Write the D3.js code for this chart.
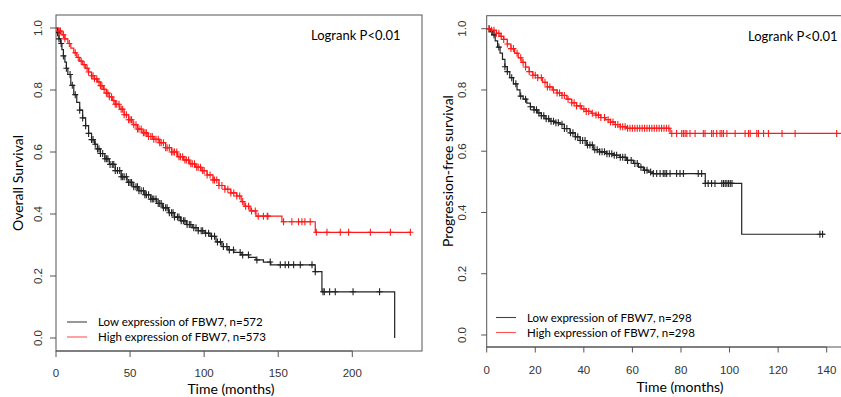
<!DOCTYPE html>
<html>
<head>
<meta charset="utf-8">
<script src="https://cdn.jsdelivr.net/npm/d3@7"></script>
<style>
  body { margin: 0; background: #fff; }
  svg { display: block; }
</style>
</head>
<body>
<svg id="chart" width="841" height="397"></svg>
<script>
// Kaplan-Meier curves: [time in months, survival]
const osLow = [[0,1.0],[1,0.985],[2,0.965],[3,0.95],[4,0.93],[5,0.91],[6,0.89],[7,0.87],[8,0.85],[10,0.815],
  [12,0.785],[14,0.76],[16,0.735],[18,0.71],[20,0.685],[22,0.66],[24,0.64],[26,0.625],[28,0.61],[30,0.595],
  [33,0.578],[36,0.56],[40,0.54],[44,0.52],[48,0.502],[52,0.488],[56,0.475],[60,0.462],[64,0.448],[68,0.434],
  [72,0.42],[76,0.404],[80,0.39],[84,0.378],[88,0.366],[92,0.356],[96,0.346],[100,0.338],[104,0.328],[108,0.31],
  [112,0.295],[116,0.284],[120,0.276],[125,0.268],[130,0.26],[135,0.252],[140,0.245],[145,0.236],[175,0.214],
  [179.5,0.149],[228.6,0.0]];
const osHigh = [[0,1.0],[2,0.99],[4,0.978],[6,0.965],[8,0.95],[10,0.935],[12,0.92],[14,0.905],[16,0.893],[18,0.882],
  [20,0.87],[22,0.858],[24,0.846],[26,0.836],[28,0.826],[30,0.814],[32,0.802],[34,0.79],[36,0.778],[38,0.766],
  [40,0.754],[43,0.738],[46,0.72],[49,0.704],[52,0.688],[55,0.674],[58,0.662],[62,0.65],[66,0.641],[70,0.63],
  [74,0.614],[78,0.6],[82,0.585],[86,0.574],[90,0.562],[94,0.551],[98,0.54],[102,0.526],[106,0.51],[110,0.492],
  [114,0.48],[118,0.468],[122,0.458],[125,0.44],[127,0.425],[131,0.41],[135,0.393],[152.5,0.375],[175,0.341],[239.5,0.341]];

const osLowCensor = [1, 2, 3.5, 5, 7, 9.5, 11, 13, 16, 18, 20, 22, 24, 25, 26.5, 28, 29, 30, 31.5, 33, 34, 35, 36.5,
  38, 39, 40, 41.5, 43, 44, 45, 46, 47.5, 49, 50, 51, 52.5, 54, 55, 56, 57.5, 59, 60, 61, 62.5, 64, 65, 66, 67.5,
  69, 70, 71, 72.5, 74, 75, 76.5, 78, 79, 80, 82, 83, 84.5, 86, 87, 88.5, 90, 91, 93, 94.5, 96, 98, 99, 101, 103,
  105, 107, 109, 111, 113, 115.3, 117, 119.8, 124.3, 126, 129.9, 135.6, 144.6, 151.4, 154.7, 157, 160.4, 164.9,
  172.8, 175, 180.2, 181.1, 184.7, 188.5, 200.5, 218.4];
const osHighCensor = [2, 3, 5, 6, 9, 13, 15, 17, 19, 21, 22, 24, 25, 26, 27.5, 29, 30, 31, 32.5, 34, 35, 36, 37.5,
  39, 40, 41, 42.5, 44, 45, 46, 47.5, 49, 50, 51, 52.5, 54, 55, 56, 57.5, 59, 60, 61, 62.5, 64, 65, 66, 67.5, 69,
  70, 71, 72.5, 74, 75, 76.5, 78, 79, 80, 81.5, 83, 84, 85.5, 87, 88, 89.5, 91, 92, 93.5, 95, 96, 97.5, 99, 100,
  102, 104, 106, 107, 108.5, 110, 112, 114, 116, 118, 120, 122, 124, 126, 128, 130, 132, 134.5, 136.5, 140, 142.6,
  143, 153.6, 159.2, 163.7, 166, 168, 171.6, 175.7, 182.9, 191.9, 197.5, 212.2, 225.7, 239.2];

const pfsLow = [[0,1.0],[1.5,0.99],[2.5,0.98],[3.5,0.96],[4.5,0.94],[5.5,0.92],[6.5,0.9],[7.5,0.876],[8.5,0.86],
  [9.5,0.84],[11,0.82],[12.5,0.8],[13.7,0.78],[15,0.77],[16.5,0.757],[18,0.745],[19.5,0.735],[21,0.725],
  [22.5,0.716],[24,0.706],[26,0.698],[28,0.693],[30.2,0.688],[32,0.674],[34.3,0.66],[36.5,0.647],[38.5,0.635],
  [41,0.62],[43.9,0.605],[46.5,0.598],[49.4,0.592],[52,0.587],[54.9,0.58],[57.5,0.57],[60.4,0.56],[62.5,0.548],
  [64.5,0.538],[66.5,0.532],[68.6,0.527],[90,0.495],[105,0.329],[139.3,0.329]];
const pfsHigh = [[0,1.0],[2,0.995],[4,0.985],[5.5,0.975],[7,0.965],[8.5,0.95],[10,0.935],[11.5,0.92],[13,0.905],
  [14.5,0.89],[16,0.875],[17.5,0.86],[19,0.848],[21,0.84],[23,0.825],[25,0.81],[27,0.8],[29,0.79],[31,0.782],
  [33,0.77],[35,0.758],[37,0.748],[39,0.738],[41,0.73],[43,0.724],[45,0.718],[47,0.71],[49,0.703],[51,0.695],
  [53,0.687],[55,0.68],[57.6,0.675],[75.5,0.658],[148,0.658]];

const pfsLowCensor = [1, 2, 3, 5, 7.5, 8.5, 10.3, 12, 14, 16, 18, 19.5, 20.5, 21.5, 22.5, 23.5, 24.5, 25.5, 26.5,
  27.5, 28.5, 29.5, 31, 32, 33, 34.5, 35.5, 36.5, 37.5, 38.5, 39.5, 40.5, 41.5, 42.5, 43.5, 44.5, 45.5, 46.5, 47.5,
  48.5, 49.5, 50.5, 51.5, 52.5, 53.5, 55, 56, 57, 58, 59.5, 61, 62, 63.5, 65, 66, 67.5, 68.6, 70, 71.4, 72.7, 73.4,
  74.1, 75.5, 78.2, 79.6, 81, 87.1, 88.5, 90, 91.2, 92.6, 94, 96.8, 97.5, 98.2, 98.9, 99.6, 100.3, 101, 137.2, 138.3];
const pfsHighCensor = [1, 2, 3, 4, 5, 6, 7, 8.5, 10, 11, 12.5, 14, 15, 16, 17.5, 19, 20, 21, 22.5, 24, 25, 26, 27.5,
  29, 30, 31, 32, 33.5, 35, 36, 37, 38.5, 40, 41, 42, 43.5, 45, 46, 47, 48.5, 50, 51, 52, 53, 54, 55, 56, 57, 58,
  59, 60, 61, 62, 63, 64, 65, 66, 67, 68, 69, 70, 71, 72, 73, 74, 75, 76.2, 78.2, 80.3, 81, 81.7, 82.4, 83.7,
  85.8, 89.2, 89.9, 92.6, 93.3, 94.7, 96.1, 96.8, 97.5, 98.9, 102.3, 106.4, 107.8, 108.5, 111.2, 111.9, 114, 116,
  121.6, 127, 144.1];

const yTicks = [0, 0.2, 0.4, 0.6, 0.8, 1.0];
const osXTicks = [0, 50, 100, 150, 200];
const pfsXTicks = [0, 20, 40, 60, 80, 100, 120, 140];
const osLegend = ['Low expression of FBW7, n=572', 'High expression of FBW7, n=573'];
const pfsLegend = ['Low expression of FBW7, n=298', 'High expression of FBW7, n=298'];

const LOW_COLOR = '#222';
const HIGH_COLOR = '#ff1a1a';
const AXIS_COLOR = '#555';
const LABEL_FONT = '"Liberation Sans", Arial, sans-serif';
const TEXT_FONT = 'Lato, "Open Sans", sans-serif';

const svg = d3.select('#chart');

// survival value of a step curve at time t
function survivalAt(curve, t) {
  let s = curve[0][1];
  for (const p of curve) {
    if (p[0] <= t) s = p[1];
  }
  return s;
}

function drawPanel(cfg) {
  const x = d3.scaleLinear().domain(cfg.xDomain).range(cfg.xRange);
  const y = d3.scaleLinear().domain([0, 1]).range(cfg.yRange);
  const g = svg.append('g');

  g.append('defs').append('clipPath').attr('id', cfg.id)
    .append('rect')
    .attr('x', cfg.box[0]).attr('y', cfg.box[1])
    .attr('width', cfg.box[2] - cfg.box[0]).attr('height', cfg.box[3] - cfg.box[1]);

  // frame
  g.append('rect')
    .attr('x', cfg.box[0]).attr('y', cfg.box[1])
    .attr('width', cfg.box[2] - cfg.box[0]).attr('height', cfg.box[3] - cfg.box[1])
    .attr('fill', 'none').attr('stroke', AXIS_COLOR).attr('stroke-width', 1);

  // y axis (R style: labels rotated)
  const yAxis = g.append('g');
  yAxis.selectAll('line').data(yTicks).enter().append('line')
    .attr('x1', cfg.box[0] - cfg.tickLen).attr('x2', cfg.box[0])
    .attr('y1', d => y(d)).attr('y2', d => y(d))
    .attr('stroke', AXIS_COLOR);
  yAxis.selectAll('text').data(yTicks).enter().append('text')
    .attr('transform', d => `translate(${cfg.yLabelX},${y(d)}) rotate(-90)`)
    .attr('text-anchor', 'middle').attr('dy', '0.35em')
    .style('font-family', LABEL_FONT).style('font-size', '11.5px').attr('fill', '#333')
    .text(d => d.toFixed(1));

  // x axis
  const xAxis = g.append('g');
  xAxis.append('line')
    .attr('x1', x(cfg.xTicks[0])).attr('x2', x(cfg.xTicks[cfg.xTicks.length - 1]))
    .attr('y1', cfg.box[3]).attr('y2', cfg.box[3]).attr('stroke', AXIS_COLOR);
  xAxis.selectAll('line.tick').data(cfg.xTicks).enter().append('line')
    .attr('class', 'tick')
    .attr('x1', d => x(d)).attr('x2', d => x(d))
    .attr('y1', cfg.box[3]).attr('y2', cfg.box[3] + cfg.tickLen)
    .attr('stroke', AXIS_COLOR);
  xAxis.selectAll('text').data(cfg.xTicks).enter().append('text')
    .attr('x', d => x(d)).attr('y', cfg.xLabelY)
    .attr('text-anchor', 'middle').attr('dy', '0.35em')
    .style('font-family', LABEL_FONT).style('font-size', '11.5px').attr('fill', '#333')
    .text(d => d);

  // titles
  g.append('text')
    .attr('transform', `translate(${cfg.yTitle[0]},${cfg.yTitle[1]}) rotate(-90)`)
    .attr('text-anchor', 'middle').attr('dy', '0.35em')
    .style('font-family', TEXT_FONT).style('font-size', '14px').attr('fill', '#000')
    .text(cfg.yTitleText);
  g.append('text')
    .attr('x', cfg.xTitle[0]).attr('y', cfg.xTitle[1])
    .attr('text-anchor', 'middle').attr('dy', '0.35em')
    .style('font-family', TEXT_FONT).style('font-size', '14px').attr('fill', '#000')
    .text('Time (months)');
  g.append('text')
    .attr('x', cfg.logrank[0]).attr('y', cfg.logrank[1])
    .attr('dy', '0.35em')
    .style('font-family', TEXT_FONT).style('font-size', '13px').attr('fill', '#000')
    .text('Logrank P<0.01');

  // curves and censor marks
  const line = d3.line().x(d => x(d[0])).y(d => y(d[1])).curve(d3.curveStepAfter);
  const plot = g.append('g').attr('clip-path', `url(#${cfg.id})`);

  cfg.series.forEach(s => {
    plot.append('path').datum(s.curve)
      .attr('d', line)
      .attr('fill', 'none').attr('stroke', s.color).attr('stroke-width', 1.2);
    plot.append('g').selectAll('path').data(s.censor).enter().append('path')
      .attr('d', t => {
        const cx = x(t), cy = y(survivalAt(s.curve, t));
        return `M${cx - 3},${cy}H${cx + 3}M${cx},${cy - 3.5}V${cy + 3.5}`;
      })
      .attr('stroke', s.color).attr('stroke-width', 1.1).attr('fill', 'none');
  });

  // legend
  const legend = g.append('g');
  cfg.series.forEach((s, i) => {
    const ly = cfg.legend[1] + i * 15;
    legend.append('line')
      .attr('x1', cfg.legend[0]).attr('x2', cfg.legend[0] + 20)
      .attr('y1', ly).attr('y2', ly)
      .attr('stroke', i === 0 ? '#444' : '#f55').attr('stroke-width', 1.1);
    legend.append('text')
      .attr('x', cfg.legend[0] + 31).attr('y', ly).attr('dy', '0.35em')
      .style('font-family', TEXT_FONT).style('font-size', '11.5px').attr('fill', '#000')
      .text(s.label);
  });
}

drawPanel({
  id: 'clip-os',
  xDomain: [0, 200], xRange: [56, 352.3],
  yRange: [338, 28],
  box: [56, 15, 422, 351],
  tickLen: 6,
  xTicks: osXTicks,
  yLabelX: 38, xLabelY: 373,
  yTitle: [18, 183], yTitleText: 'Overall Survival',
  xTitle: [231, 389],
  logrank: [311, 35],
  legend: [67, 322],
  series: [
    { curve: osLow, censor: osLowCensor, color: LOW_COLOR, label: osLegend[0] },
    { curve: osHigh, censor: osHighCensor, color: HIGH_COLOR, label: osLegend[1] }
  ]
});

drawPanel({
  id: 'clip-pfs',
  xDomain: [0, 140], xRange: [486.7, 826.7],
  yRange: [335, 28.7],
  box: [486.7, 15.7, 848, 347],
  tickLen: 5.5,
  xTicks: pfsXTicks,
  yLabelX: 462, xLabelY: 370,
  yTitle: [448, 171], yTitleText: 'Progression-free survival',
  xTitle: [680, 387],
  logrank: [748, 36],
  legend: [496, 317.5],
  series: [
    { curve: pfsLow, censor: pfsLowCensor, color: LOW_COLOR, label: pfsLegend[0] },
    { curve: pfsHigh, censor: pfsHighCensor, color: HIGH_COLOR, label: pfsLegend[1] }
  ]
});
</script>
</body>
</html>
